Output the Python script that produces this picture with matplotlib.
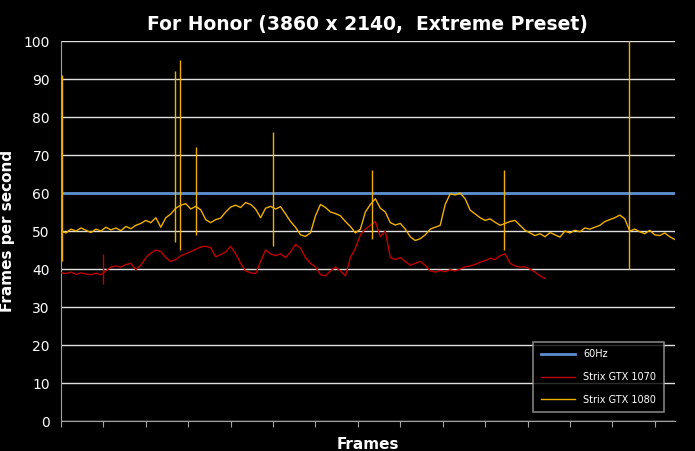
import numpy as np
import matplotlib
matplotlib.use("Agg")
import matplotlib.pyplot as plt

# FPS samples (one value every 5 frames)
gtx1080 = [50, 49.5, 50.5, 50, 50.8, 50.2, 49.6, 50.5, 50, 51, 50.3, 50.8, 50.1, 51.2, 50.6, 51.5,
           52, 52.8, 52.2, 53.5, 51, 53.5, 54.5, 56, 56.8, 57.2, 55.8, 56.5, 55.6, 53, 52.2, 53,
           53.4, 55, 56.3, 56.8, 56.2, 57.5, 57, 55.8, 53.5, 56, 56.5, 55.8, 56.4, 54.5, 52.5, 51,
           49, 48.6, 49.5, 54, 57, 56.2, 55, 54.6, 54, 52.5, 51.2, 49.5, 50.5, 55, 57, 58.5,
           56, 55, 52.2, 51.6, 52, 50.5, 48.5, 47.5, 48, 49, 50.5, 51, 51.5, 57, 59.8, 59.5,
           60, 58.5, 55.5, 54.5, 53.5, 52.8, 53.2, 52.3, 51.5, 52, 52.5, 52.8, 51.5, 50.2, 49.5, 48.8,
           49.3, 48.5, 49.6, 49, 48.4, 50, 49.5, 50.2, 49.8, 50.8, 50.5, 51, 51.5, 52.5, 53, 53.5,
           54.2, 53.2, 50, 50.5, 49.8, 49.3, 50.2, 49, 48.8, 49.5, 48.5, 47.8]
gtx1070 = [39, 38.8, 39.2, 38.6, 39, 38.7, 38.5, 38.9, 38.5, 39.5, 40.5, 40.8, 40.5, 41.2, 41.5, 39.8,
           41, 43, 44.2, 45, 44.6, 43, 42, 42.5, 43.5, 44, 44.6, 45.2, 45.8, 46, 45.6, 43.2,
           43.8, 44.5, 46, 44, 41.5, 39.5, 39, 38.8, 42, 45, 44, 43.5, 44, 43, 44.5, 46.5,
           45.5, 43, 41.5, 40.5, 38.5, 38.2, 39.5, 40.5, 39.5, 38.2, 43, 45.5, 49, 50.5, 51.5, 52.5,
           48.5, 50, 43, 42.5, 43, 42, 41, 41.5, 42, 41, 39.5, 39.2, 39.6, 39.3, 39.8, 39.5,
           40, 40.6, 40.8, 41.2, 41.8, 42.2, 42.8, 42.5, 43.5, 44, 41.5, 40.8, 40.5, 40.6, 40, 39.2,
           38.2, 37.5]
# frame spikes: (frame, high, low)
spikes1080 = [(1, 91, 42), (114, 92, 47), (119, 95, 45), (135, 72, 49), (212, 76, 46),
              (312, 66, 48), (444, 66, 45), (569, 100, 40)]
spikes1070 = [(42, 44, 36)]
refresh = 60
step = 5

c60, c70, c80 = "#5b8fd0", "#c00000", "#f0b000"

fig = plt.figure(figsize=(6.95, 4.51), dpi=100, facecolor="black")
ax = fig.add_axes([0.0878, 0.0665, 0.883, 0.8425], facecolor="black")

x80 = np.arange(len(gtx1080)) * step
x70 = np.arange(len(gtx1070)) * step
ax.axhline(refresh, color=c60, lw=2, zorder=3, label="60Hz")
ax.plot(x70, gtx1070, color=c70, lw=1, zorder=4, label="Strix GTX 1070")
ax.plot(x80, gtx1080, color=c80, lw=1, zorder=5, label="Strix GTX 1080")
for f, hi, lo in spikes1080:
    ax.vlines(f, lo, hi, color=c80, lw=1, zorder=5)
for f, hi, lo in spikes1070:
    ax.vlines(f, lo, hi, color=c70, lw=1, zorder=4)

ax.set_xlim(0, x80[-1])
ax.set_ylim(0, 100)
ax.set_yticks(range(0, 101, 10))
ax.set_xticks(np.arange(0, x80[-1] + 1, 42.5))
ax.set_xticklabels([])
ax.grid(axis="y", color="#e0e0e0", lw=1)
ax.set_axisbelow(True)
for s in ["top", "right"]:
    ax.spines[s].set_visible(False)
for s in ["left", "bottom"]:
    ax.spines[s].set_color("#a0a0a0")
ax.tick_params(colors="#a0a0a0", labelcolor="white", labelsize=10, length=4)
ax.tick_params(axis="y", length=0, pad=8)

ax.set_title("For Honor (3860 x 2140,  Extreme Preset)", color="white",
             fontsize=13.5, fontweight="bold", pad=8)
ax.set_xlabel("Frames", color="white", fontsize=11, fontweight="bold", labelpad=4)
ax.set_ylabel("Frames per second", color="white", fontsize=11, fontweight="bold", labelpad=6)

leg = ax.legend(loc="lower right", bbox_to_anchor=(0.99, 0.01), fontsize=7,
                facecolor="black", edgecolor="#a0a0a0", fancybox=False,
                labelspacing=1.3, borderpad=0.8, handlelength=3.5)
leg.get_frame().set_linewidth(1.2)
for t in leg.get_texts():
    t.set_color("white")

fig.savefig("out.png", dpi=100, facecolor="black")
